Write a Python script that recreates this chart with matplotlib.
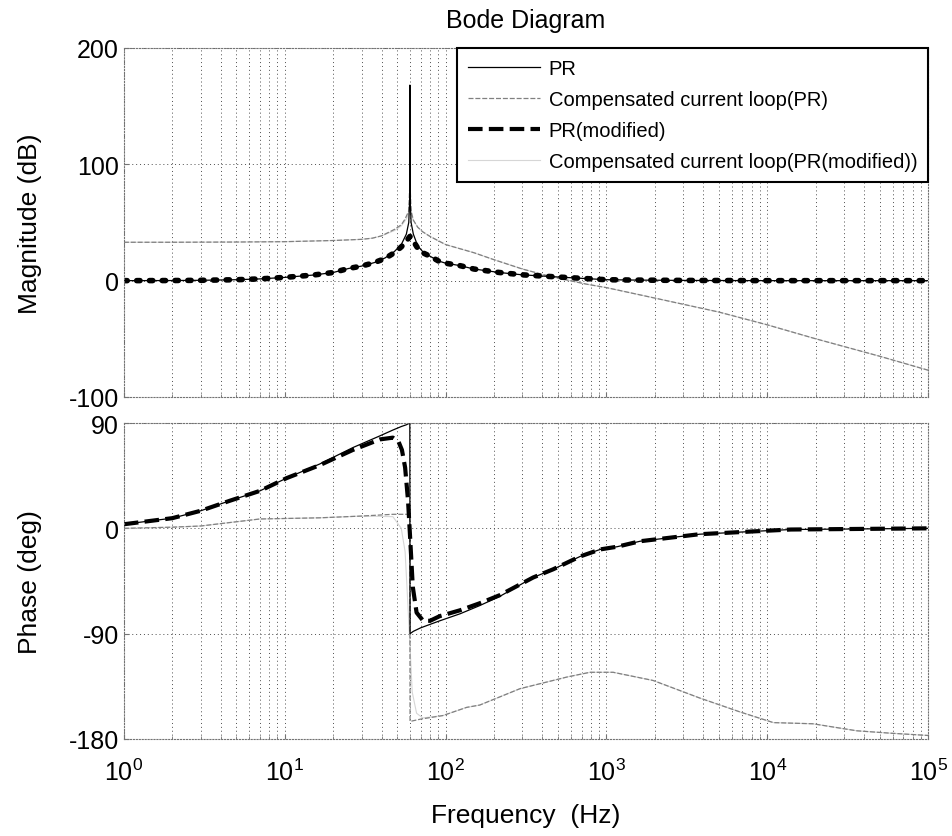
import matplotlib
matplotlib.use('Agg')
import matplotlib.pyplot as plt
from matplotlib import font_manager
import numpy as np

# ---- data (frequency in Hz) ----
# PR(modified) - thick dashed
f_mod_mag = [1, 2, 3, 5, 7, 10, 15, 20, 25, 30, 36, 42, 48, 53, 57, 60, 63, 67, 72, 80,
             90, 100, 122, 150, 216, 300, 520, 1000, 1500, 3000, 1e4, 1e5]
mag_mod = [0.0, 0.1, 0.3, 0.8, 1.5, 2.8, 4.8, 7.0, 10.5, 12.5, 15.5, 19, 24, 29, 34, 38, 34, 28, 24, 21,
           17, 15, 13, 10, 7, 5, 3, 0.8, 0.5, 0.2, 0.0, 0.0]
f_mod_ph = [1, 2, 3, 4.56, 7, 10.3, 16.5, 26.5, 39, 47, 51, 53.5, 56, 58.4, 60, 62.5, 66, 72.5, 80,
            92, 123, 163, 218, 350, 466, 686, 915, 1165, 1620, 3800, 1e4, 1.4e4, 1e5]
ph_mod = [3.5, 8.7, 15, 23.6, 32, 43, 54, 67, 76, 77.5, 74, 67, 52, 23.6, -5, -50, -72, -79, -79,
          -75, -70, -64, -57, -42, -35, -24, -18, -15.7, -11, -5, -2, -1, 0]

# PR - thin solid
f_pr_mag = [1, 2, 3, 5, 7, 10, 15, 20, 25, 30, 36, 42, 48, 53, 57, 59, 59.8, 60, 60.2, 61, 63, 67,
            72, 80, 90, 100, 122, 150, 216, 300, 520, 1000, 1500, 3000, 1e4, 1e5]
mag_pr = [0.0, 0.1, 0.3, 0.8, 1.5, 2.8, 4.8, 7.0, 10.5, 12.5, 15.5, 19.5, 25, 31, 40, 50, 70, 168, 70, 50, 40, 30,
          25, 21, 17, 15, 13, 10, 7, 5, 3, 0.8, 0.5, 0.2, 0.0, 0.0]
f_pr_ph = [1, 2, 3, 4.56, 7, 10.3, 16.5, 26.5, 39, 47, 53, 57, 59.9, 60.1, 63, 70, 92, 123, 163,
           218, 350, 466, 686, 915, 1165, 1620, 3800, 1e4, 1.4e4, 1e5]
ph_pr = [3.5, 8.7, 15, 23.6, 32, 43, 55, 69, 79, 84, 87, 88.5, 90, -90, -88, -85, -79, -73, -66,
         -58, -42, -35, -24, -18, -15.7, -11, -5, -2, -1, 0]

# Compensated current loop(PR) - gray
f_cl_mag = [1, 2, 5, 10, 20, 30, 35, 40, 48, 53, 56, 59, 59.8, 60, 60.2, 61, 63, 67, 72, 80, 100,
            150, 200, 300, 450, 750, 1000, 2000, 5000, 1e4, 2e4, 5e4, 1e5]
mag_cl = [33, 33, 33.2, 33.5, 34.5, 35.5, 36.5, 38.5, 44, 48, 53, 60, 80, 168, 80, 60, 52, 46, 42, 38, 31,
          24, 18, 10, 3.5, -3, -6, -15, -27, -38, -50, -65, -77]
f_cl_ph = [1, 2, 3, 7, 16.5, 30, 47, 57, 59.9, 60.1, 70, 96, 135, 163, 290, 570, 790, 1100, 1950,
           3800, 6800, 10900, 19200, 36000, 57700, 1e5]
ph_cl = [0, 1, 2, 8, 9, 10.5, 12, 12, 12, -165, -163, -160, -153, -151, -137, -127, -123, -123, -130,
         -145, -157, -166, -167, -173, -175, -177]

# Compensated current loop(PR(modified)) - very light gray
f_cm_mag = [1, 2, 5, 10, 20, 30, 35, 40, 48, 53, 57, 60, 63, 67, 72, 80, 100,
            150, 200, 300, 450, 750, 1000, 2000, 5000, 1e4, 2e4, 5e4, 1e5]
mag_cm = [33, 33, 33.2, 33.5, 34.5, 35.5, 36.5, 38.5, 43, 47, 53, 60, 52, 46, 42, 38, 31,
          24, 18, 10, 3.5, -3, -6, -15, -27, -38, -50, -65, -77]
f_cm_ph = [1, 2, 3, 7, 16.5, 30, 47, 53, 56, 58, 60, 62, 66, 72, 96, 135, 163, 290, 570, 790, 1100,
           1950, 3800, 6800, 10900, 19200, 36000, 57700, 1e5]
ph_cm = [0, 1, 2, 8, 9, 10.5, 10, 0, -20, -60, -100, -140, -158, -162, -160, -153, -151, -137, -127,
         -123, -123, -130, -145, -157, -166, -167, -173, -175, -177]

labels = ['PR', 'Compensated current loop(PR)', 'PR(modified)',
          'Compensated current loop(PR(modified))']

plt.rcParams['font.family'] = ['Liberation Sans', 'DejaVu Sans']
plt.rcParams['axes.unicode_minus'] = False
available = {f.name for f in font_manager.fontManager.ttflist}
leg_family = 'Liberation Sans Narrow' if 'Liberation Sans Narrow' in available else 'Liberation Sans'
leg_size = 17 if leg_family == 'Liberation Sans Narrow' else 14.5

fig = plt.figure(figsize=(9.53, 8.37), dpi=100)
ax1 = fig.add_axes([0.130, 0.5245, 0.844, 0.417])
ax2 = fig.add_axes([0.130, 0.1159, 0.844, 0.3775])

grid_kw = dict(color='0.3', linestyle=(0, (1, 3)), linewidth=0.7)

ax1.semilogx(f_cm_mag, mag_cm, color='#d6d6d6', lw=0.8)
ax1.semilogx(f_cl_mag, mag_cl, color='0.5', lw=0.9, linestyle=(0, (4, 1.5)))
ax1.semilogx(f_mod_mag, mag_mod, color='black', lw=4, linestyle=(0, (0.6, 1.7)),
             dash_capstyle='round')
ax1.semilogx(f_pr_mag, mag_pr, color='black', lw=0.9)

l4, = ax2.semilogx(f_cm_ph, ph_cm, color='#d6d6d6', lw=0.8)
l2, = ax2.semilogx(f_cl_ph, ph_cl, color='0.5', lw=0.9, linestyle=(0, (4, 1.5)))
l3, = ax2.semilogx(f_mod_ph, ph_mod, color='black', lw=3, linestyle=(0, (3.5, 1.5)))
l1, = ax2.semilogx(f_pr_ph, ph_pr, color='black', lw=0.9)

for ax in (ax1, ax2):
    ax.set_xlim(1, 1e5)
    ax.grid(True, which='both', axis='x', **grid_kw)
    ax.grid(True, which='major', axis='y', **grid_kw)
    for s in ax.spines.values():
        s.set_color('0.45')
        s.set_linewidth(0.8)
        s.set_linestyle(':')
    ax.tick_params(which='both', direction='in', labelsize=18, color='0.45')
    ax.tick_params(which='minor', length=2.5)
    ax.yaxis.set_label_coords(-0.102, 0.5)

ax1.set_ylim(-100, 200)
ax1.set_yticks([-100, 0, 100, 200])
ax1.tick_params(axis='x', which='both', labelbottom=False)
ax1.set_ylabel('Magnitude (dB)', fontsize=19)
ax1.set_title('Bode Diagram', fontsize=18, pad=15)

ax2.set_ylim(-180, 90)
ax2.set_yticks([-180, -90, 0, 90])
ax2.tick_params(axis='x', which='major', pad=14)
ax2.set_ylabel('Phase (deg)', fontsize=19)
ax2.set_xlabel('Frequency  (Hz)', fontsize=19, labelpad=13)

leg = ax1.legend([l1, l2, l3, l4], labels, loc='upper right', borderaxespad=0,
                 handlelength=3.6, handletextpad=0.4, labelspacing=0.6, borderpad=0.55,
                 fancybox=False, framealpha=1, prop={'family': leg_family, 'size': leg_size})
leg.get_frame().set_edgecolor('black')
leg.get_frame().set_linewidth(1.5)

fig.savefig('out.png', dpi=100)
